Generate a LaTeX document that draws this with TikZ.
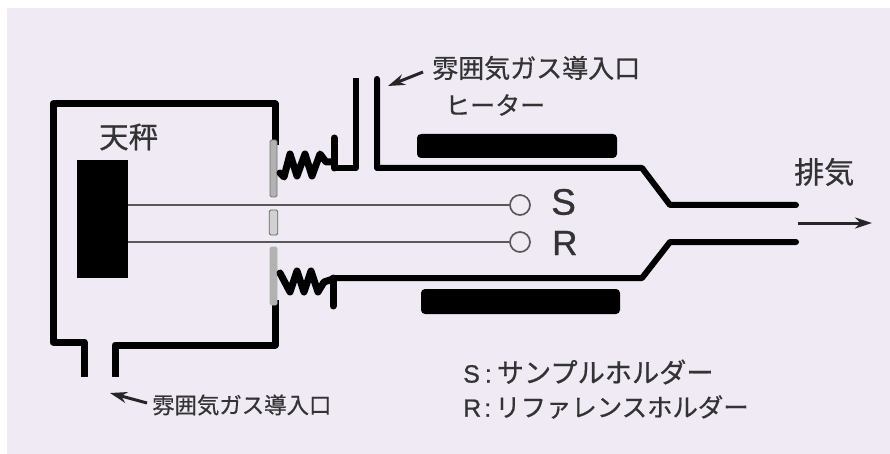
\documentclass[tikz,border=0pt]{standalone}
\usepackage{fontspec}
\setmainfont[RawFeature={embolden=0.8}]{Liberation Sans}
\newfontfamily\cjk[RawFeature={embolden=0.6}]{Noto Sans CJK JP}
\usetikzlibrary{arrows.meta}
\definecolor{paper}{RGB}{239,234,244}
\tikzset{x=1pt,y=-1pt,
 wall/.style={draw=black,line width=7pt,line join=round,line cap=round},
 rod/.style={draw=black!65,line width=1.4pt},
 seal/.style={draw=black!55,fill=black!30,line width=.9pt,rounded corners=1.5pt,minimum width=7pt,inner sep=0pt},
 holder/.style={circle,draw=black!65,fill=paper,line width=1.7pt,minimum size=20pt,inner sep=0pt},
 heater/.style={fill=black,rounded corners=4pt,inner sep=0pt},
 lbl/.style={text=black!80,inner sep=0pt,anchor=west},
 pointer/.style={draw=black!85,line width=3pt,-{Stealth[length=17pt,width=11pt]}},
}
\begin{document}
\begin{tikzpicture}
\useasboundingbox (0,0) rectangle (890,454);
\fill[white] (0,0) rectangle (890,454);
\fill[paper] (7,8) rectangle (890,454);
% chamber
\draw[wall,line cap=butt] (275,145) -- (275,104) -- (53,104) -- (53,342) -- (84,342) -- (84,377);
\draw[wall,line cap=butt] (115,377) -- (115,345) -- (275,345) -- (275,300);
% balance
\node[fill=black,inner sep=0pt,minimum width=51pt,minimum height=118pt] (bal) at (102.5,219) {};
% seals
\node[seal,minimum height=57pt] (s1) at (273.5,168.5) {};
\node[seal,minimum height=25pt,minimum width=8.5pt,fill=black!18,draw=black!60] (s2) at (273.5,222.5) {};
\node[seal,minimum height=58pt,draw=black!30] (s3) at (273.5,276) {};
% holders and rods
\node[holder] (hs) at (520,205) {};
\node[holder] (hr) at (520,242) {};
\draw[rod] (bal.east |- hs) -- (hs);
\draw[rod] (bal.east |- hr) -- (hr);
% bellows
\draw[wall] (280,173) -- (284,177) -- (290,154) -- (297,176) -- (305,154) -- (312,176) -- (320,154) -- (326,162) -- (334,162);
\draw[wall] (280,273) -- (290,292) -- (297,271) -- (304,292) -- (311,271) -- (318,292) -- (324,282) -- (333,279);
% tube
\draw[wall,line cap=butt,line width=6pt] (334,168) -- (356,168) -- (356,78);
\draw[wall] (334,138) -- (334,168);
\draw[wall,line width=6pt] (377,79) -- (377,168) -- (642,168) -- (670,205) -- (796,205);
\draw[wall,line width=6pt] (333,278) -- (642,278) -- (670,242) -- (796,242);
\draw[wall] (333,278) -- (333,306);
% heaters
\node[heater,minimum width=200pt,minimum height=24pt] (h1) at (517,146) {};
\node[heater,minimum width=199pt,minimum height=25pt] (h2) at (520.5,301.5) {};
% pointers
\coordinate (p1s) at (423,72);
\coordinate (p1e) at (388,86);
\draw[pointer] (p1s) -- (p1e);
\coordinate (p2s) at (147,403);
\coordinate (p2e) at (110,393);
\draw[pointer] (p2s) -- (p2e);
\coordinate (p3s) at (798,223);
\coordinate (p3e) at (872,223);
\draw[pointer] (p3s) -- (p3e);
% labels
\node[lbl,font=\cjk\fontsize{29.5}{29.5}\selectfont] (t1) at (99,137) {天秤};
\node[lbl,font=\cjk\fontsize{26}{26}\selectfont] (t2) at (432,68) {雰囲気ガス導入口};
\node[lbl,font=\cjk\fontsize{25}{25}\selectfont] (t3) at (445,105) {ヒーター};
\node[lbl,font=\cjk\fontsize{30}{30}\selectfont] (t4) at (794,172) {排気};
\node[lbl,font=\fontsize{37}{37}\selectfont] (t5) at (551,202) {S};
\node[lbl,font=\fontsize{35}{35}\selectfont] (t6) at (552,243) {R};
\node[lbl,font=\cjk\fontsize{22.4}{22.4}\selectfont] (t7) at (152,405) {雰囲気ガス導入口};
\node[lbl,font=\fontsize{25}{25}\selectfont] (t8) at (463,372) {S\hspace{5pt}:\hspace{5pt}{\cjk\fontsize{27.2}{27.2}\selectfont サンプルホルダー}};
\node[lbl,font=\fontsize{25}{25}\selectfont] (t9) at (463,407) {R\hspace{3pt}:\hspace{4pt}{\cjk\fontsize{25.4}{25.4}\selectfont リファレンスホルダー}};
\end{tikzpicture}
\end{document}
